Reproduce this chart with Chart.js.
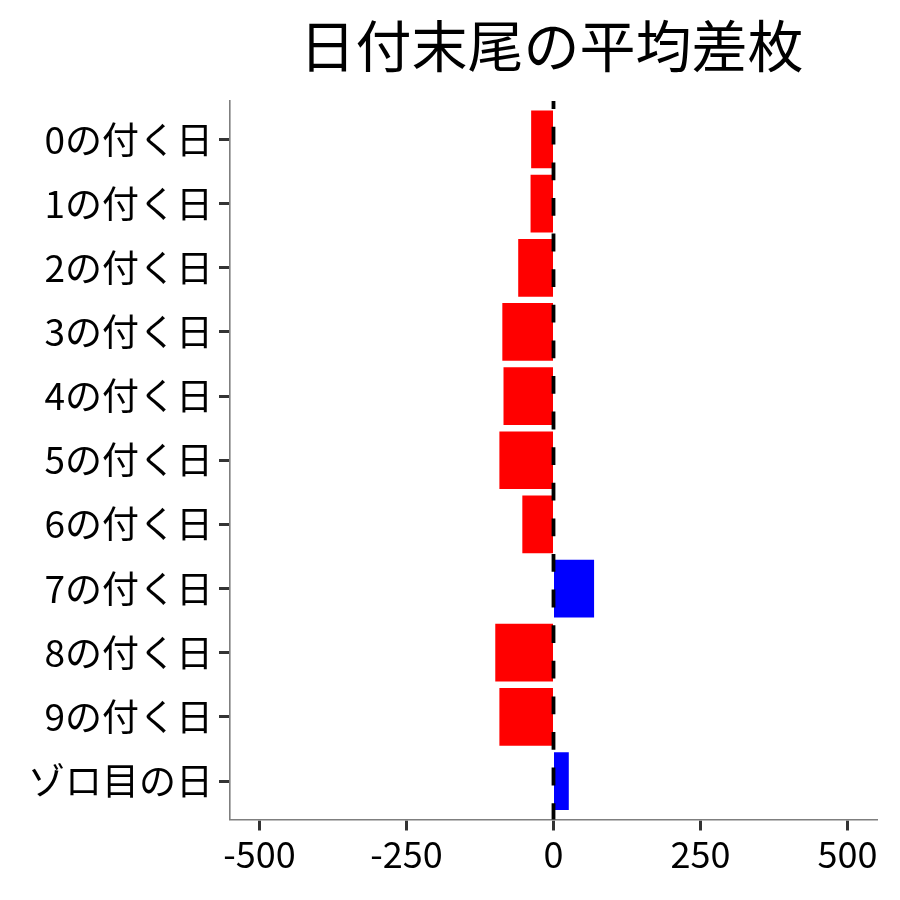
<!DOCTYPE html>
<html>
<head>
<meta charset="utf-8">
<script src="https://cdn.jsdelivr.net/npm/chart.js@4/dist/chart.umd.min.js"></script>
<style>
  html, body { margin: 0; padding: 0; background: #ffffff; }
  #wrap { width: 900px; height: 900px; }
</style>
</head>
<body>
<div id="wrap"><canvas id="c" width="900" height="900"></canvas></div>
<script>
const titleText = '日付末尾の平均差枚';
const categories = ['0の付く日', '1の付く日', '2の付く日', '3の付く日', '4の付く日', '5の付く日', '6の付く日', '7の付く日', '8の付く日', '9の付く日', 'ゾロ目の日'];
const diffValues = [-38, -39, -60, -87, -85, -92, -53, 69, -99, -92, 26];
const xTickValues = [-500, -250, 0, 250, 500];

const FONT = "'Noto Sans CJK JP', 'Noto Sans', sans-serif";

const points = diffValues.map((v, i) => ({ x: v, y: i }));
const barColors = diffValues.map(v => v >= 0 ? '#0000FF' : '#FF0000');

const zeroLine = {
  id: 'zeroLine',
  afterDatasetsDraw(chart) {
    const { ctx, chartArea, scales } = chart;
    const x = scales.x.getPixelForValue(0);
    ctx.save();
    ctx.strokeStyle = '#000000';
    ctx.lineWidth = 3.8;
    ctx.setLineDash([17.8, 17.8]);
    ctx.lineDashOffset = 1.5;
    ctx.beginPath();
    ctx.moveTo(x, chartArea.bottom);
    ctx.lineTo(x, chartArea.top);
    ctx.stroke();
    ctx.restore();
  }
};

const titlePlugin = {
  id: 'customTitle',
  afterDraw(chart) {
    const { ctx, chartArea } = chart;
    ctx.save();
    ctx.fillStyle = '#000000';
    ctx.font = `56px ${FONT}`;
    ctx.textAlign = 'center';
    ctx.textBaseline = 'middle';
    ctx.fillText(titleText, (chartArea.left + chartArea.right) / 2 - 2, 46);
    ctx.restore();
  }
};

new Chart(document.getElementById('c'), {
  type: 'bar',
  data: {
    datasets: [{
      data: points,
      backgroundColor: barColors,
      borderWidth: 0,
      barPercentage: 0.9,
      categoryPercentage: 1.0
    }]
  },
  options: {
    indexAxis: 'y',
    responsive: false,
    animation: false,
    devicePixelRatio: 1,
    layout: { padding: { top: 101, left: 0, right: 23, bottom: 0 } },
    plugins: {
      legend: { display: false },
      tooltip: { enabled: false },
      title: { display: false }
    },
    scales: {
      x: {
        type: 'linear',
        min: -550,
        max: 550,
        afterBuildTicks: (axis) => { axis.ticks = xTickValues.map(v => ({ value: v })); },
        afterFit: (axis) => { axis.height = 900 - 819.5; },
        border: { display: true, color: '#7f7f7f', width: 1.6 },
        grid: { display: true, drawOnChartArea: false, drawTicks: true, tickLength: 11, tickColor: '#333333', tickWidth: 3 },
        ticks: {
          color: '#000000',
          font: { family: FONT, size: 36 },
          padding: 2,
          maxRotation: 0,
          callback: (v) => String(v)
        }
      },
      y: {
        type: 'linear',
        reverse: true,
        offset: false,
        min: -0.6,
        max: categories.length - 1 + 0.6,
        afterBuildTicks: (axis) => { axis.ticks = categories.map((_, i) => ({ value: i })); },
        afterFit: (axis) => { axis.width = 230; },
        border: { display: true, color: '#7f7f7f', width: 1.6 },
        grid: { display: true, offset: false, drawOnChartArea: false, drawTicks: true, tickLength: 11, tickColor: '#333333', tickWidth: 3 },
        ticks: {
          color: '#000000',
          font: { family: FONT, size: 37 },
          padding: 6,
          callback: (v) => categories[v] !== undefined ? categories[v] : ''
        }
      }
    }
  },
  plugins: [zeroLine, titlePlugin]
});
</script>
</body>
</html>
